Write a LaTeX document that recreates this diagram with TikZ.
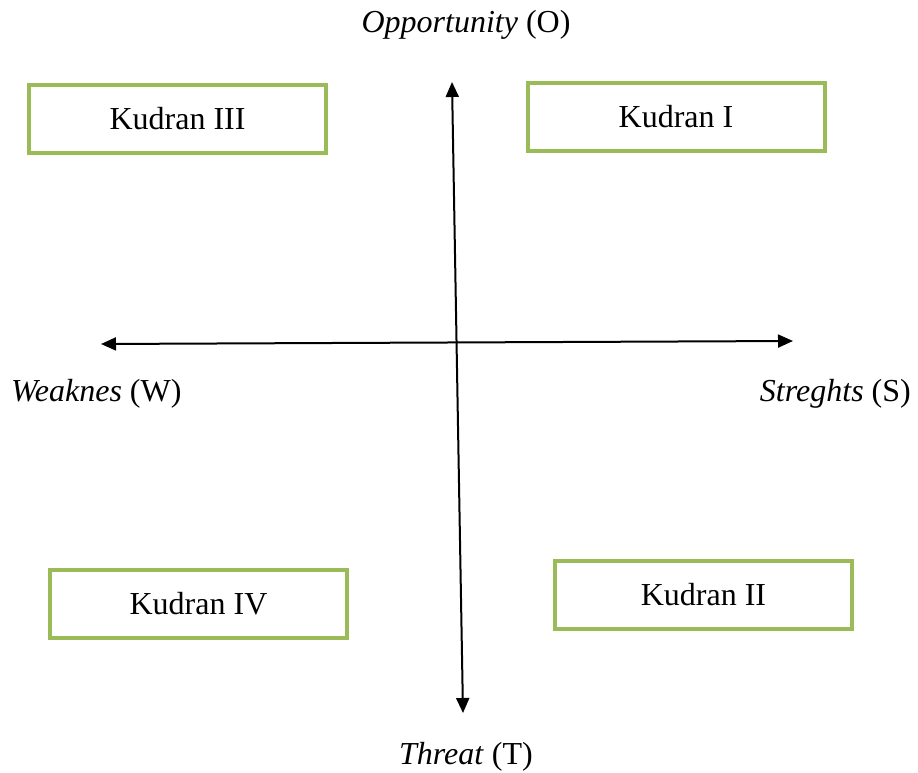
\documentclass[tikz,border=0pt]{standalone}
\usepackage{fontspec}
\setmainfont{Liberation Serif}
\usetikzlibrary{arrows.meta}
\definecolor{boxgreen}{HTML}{9BBB59}
\begin{document}
\begin{tikzpicture}[x=1pt,y=-1pt,
  every node/.style={font=\fontsize{32}{37}\selectfont},
  quad/.style={draw=boxgreen,line width=4pt,minimum width=297pt,minimum height=68pt,inner sep=0pt},
  axis/.style={line width=2pt,{Triangle[length=15pt,width=13pt]}-{Triangle[length=15pt,width=13pt]}},
  lbl/.style={inner sep=0pt}]
\useasboundingbox (0,0) rectangle (918,773);
\node[quad] (k3) at (177.5,119) {Kudran III};
\node[quad] (k1) at (676,117) {Kudran I};
\node[quad] (k4) at (198.5,604) {Kudran IV};
\node[quad] (k2) at (703.5,595) {Kudran II};
\coordinate (top) at (452,82);
\coordinate (bot) at (463,713);
\coordinate (left) at (101,344);
\coordinate (right) at (793,341);
\draw[axis] (top) -- (bot);
\draw[axis] (left) -- (right);
\node[lbl] (o) at (466,25) {\textit{Opportunity} (O)};
\node[lbl,anchor=west] (w) at (11,394) {\textit{Weaknes} (W)};
\node[lbl,anchor=east] (s) at (911,394) {\textit{Streghts} (S)};
\node[lbl] (t) at (466,757) {\textit{Threat} (T)};
\end{tikzpicture}
\end{document}
